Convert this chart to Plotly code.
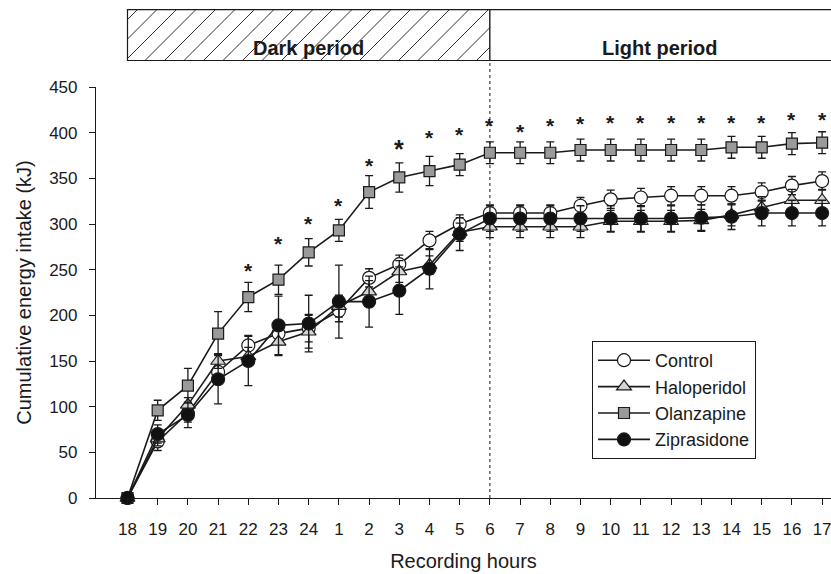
import plotly.graph_objects as go

hours = ["18", "19", "20", "21", "22", "23", "24", "1", "2", "3", "4", "5",
         "6", "7", "8", "9", "10", "11", "12", "13", "14", "15", "16", "17"]

control = [0, 62, 93, 138, 167, 180, 186, 205, 241, 256, 282, 300,
           312, 312, 312, 320, 327, 329, 331, 331, 331, 335, 342, 347]
control_err = [0, 10, 10, 12, 11, 12, 15, 12, 10, 10, 10, 10,
               9, 9, 9, 9, 10, 10, 10, 10, 10, 10, 10, 10]

haloperidol = [0, 65, 102, 150, 155, 171, 182, 210, 226, 248, 255, 291,
               297, 297, 297, 297, 303, 303, 303, 304, 310, 318, 326, 326]
haloperidol_err = [0, 8, 8, 8, 10, 15, 18, 12, 12, 12, 10, 10,
                   12, 12, 12, 12, 12, 12, 12, 12, 12, 12, 12, 12]

olanzapine = [0, 96, 123, 180, 220, 239, 269, 293, 335, 351, 358, 365,
              378, 378, 378, 381, 381, 381, 381, 381, 384, 384, 388, 389]
olanzapine_err = [0, 11, 19, 24, 16, 16, 15, 12, 18, 16, 16, 12,
                  12, 12, 12, 12, 12, 12, 12, 12, 12, 12, 12, 12]

ziprasidone = [0, 70, 91, 130, 150, 189, 191, 215, 215, 227, 251, 289,
               306, 306, 306, 306, 306, 306, 306, 307, 308, 312, 312, 312]
ziprasidone_err = [0, 10, 14, 27, 27, 32, 31, 40, 28, 26, 22, 18,
                   14, 14, 14, 14, 14, 14, 14, 14, 14, 14, 14, 14]

# significance asterisks (x index, y position in kJ)
star_idx = [4, 5, 6, 7, 8, 9, 10, 11, 12, 13, 14, 15, 16, 17, 18, 19, 20, 21, 22, 23]
star_y = [255, 284, 306, 326, 370, 389, 400, 404, 413, 407, 413, 416,
          417, 417, 417, 417, 417, 417, 420, 420]
star_big = [9]

x = list(range(len(hours)))

FONT = "Liberation Sans, Arial, sans-serif"
INK = "#1a1a1a"

# layout geometry
W, H = 831, 574
ML, MR, MT, MB = 96, 0, 87, 76
PX_PER_CAT = 30.2
X0_PX = 127.5
xr0 = -(X0_PX - ML) / PX_PER_CAT
xr1 = xr0 + (W - ML - MR) / PX_PER_CAT
plot_h = H - MT - MB

fig = go.Figure()

series = [
    ("Control", control, control_err, "circle", "white", 13),
    ("Haloperidol", haloperidol, haloperidol_err, "triangle-up", "#d4d4d4", 13),
    ("Olanzapine", olanzapine, olanzapine_err, "square", "#9a9a9a", 11),
    ("Ziprasidone", ziprasidone, ziprasidone_err, "circle", "#111111", 13),
]
for name, ys, es, sym, fill, sz in series:
    fig.add_trace(go.Scatter(
        x=x, y=ys, name=name, mode="lines+markers",
        line=dict(color=INK, width=1.6),
        marker=dict(symbol=sym, size=sz, color=fill,
                    line=dict(color=INK, width=1.2)),
        error_y=dict(type="data", array=es, visible=True,
                     color=INK, thickness=1.3, width=4),
        cliponaxis=False,
    ))

# asterisks
for i, yv in zip(star_idx, star_y):
    big = i in star_big
    fig.add_annotation(x=i, y=yv, text="<b>*</b>", showarrow=False,
                       font=dict(family=FONT, size=25 if big else 21, color=INK),
                       xref="x", yref="y", yshift=-6 if big else -5)

# banner (dark / light period)
def py2paper(py):
    return (H - MB - py) / plot_h

b_top = py2paper(9.7)
b_bot = py2paper(60.5)
dark_end = 12
fig.add_shape(type="rect", xref="x", yref="paper", x0=0, x1=dark_end,
              y0=b_bot, y1=b_top, line=dict(color=INK, width=1.2),
              fillcolor="white", layer="above")
fig.add_shape(type="rect", xref="x", yref="paper", x0=dark_end, x1=xr1 + 1,
              y0=b_bot, y1=b_top, line=dict(color=INK, width=1.2),
              fillcolor="white", layer="above")

# hatch lines at 45 degrees
hatch_px = 19.5
h_px = 60.5 - 9.7
h_cat = h_px / PX_PER_CAT
step = hatch_px / PX_PER_CAT
start = (145 - X0_PX) / PX_PER_CAT
k = start
while k - step > -h_cat:
    k -= step
while k < dark_end:
    xa, xb = k, k + h_cat
    ya, yb = b_bot, b_top
    if xa < 0:
        f = (0 - xa) / h_cat
        ya = b_bot + f * (b_top - b_bot)
        xa = 0
    if xb > dark_end:
        f = (xb - dark_end) / h_cat
        yb = b_top - f * (b_top - b_bot)
        xb = dark_end
    if xb > xa:
        fig.add_shape(type="line", xref="x", yref="paper", x0=xa, x1=xb,
                      y0=ya, y1=yb, line=dict(color=INK, width=0.9), layer="above")
    k += step

fig.add_annotation(x=dark_end / 2, y=(b_top + b_bot) / 2, xref="x", yref="paper",
                   text="<b>Dark period</b>", showarrow=False,
                   font=dict(family=FONT, size=20, color=INK))
fig.add_annotation(x=(dark_end + xr1) / 2, y=(b_top + b_bot) / 2, xref="x", yref="paper",
                   text="<b>Light period</b>", showarrow=False,
                   font=dict(family=FONT, size=20, color=INK))

# dotted divider
fig.add_shape(type="line", xref="x", yref="paper", x0=dark_end, x1=dark_end,
              y0=0, y1=b_bot, line=dict(color=INK, width=1, dash="dot"), layer="below")

fig.update_layout(
    width=W, height=H,
    margin=dict(l=ML, r=MR, t=MT, b=MB, pad=0),
    paper_bgcolor="white", plot_bgcolor="white",
    font=dict(family=FONT, color=INK, size=17),
    showlegend=True,
    legend=dict(x=(592 - ML) / (W - ML - MR), y=py2paper(341),
                xanchor="left", yanchor="top",
                bordercolor=INK, borderwidth=1, bgcolor="white",
                font=dict(family=FONT, size=18, color=INK),
                itemwidth=52, tracegroupgap=0),
    xaxis=dict(range=[xr0, xr1], tickmode="array", tickvals=x, ticktext=hours,
               showgrid=False, zeroline=False, showline=True, linecolor=INK,
               linewidth=1.2, ticks="outside", ticklen=6, tickcolor=INK,
               tickfont=dict(size=17), ticklabelstandoff=9,
               ticklabeloverflow="allow",
               title=dict(text="Recording hours", font=dict(size=20), standoff=16)),
    yaxis=dict(range=[0, 450], tickvals=list(range(0, 451, 50)),
               showgrid=False, zeroline=False, showline=True, linecolor=INK,
               linewidth=1.2, ticks="outside", ticklen=6, tickcolor=INK,
               tickfont=dict(size=17), ticklabelstandoff=8,
               title=dict(text="Cumulative energy intake (kJ)", font=dict(size=20),
                          standoff=12)),
)

fig.write_html("out.html", config={"displayModeBar": False},
               post_script="document.body.style.margin='0';")
